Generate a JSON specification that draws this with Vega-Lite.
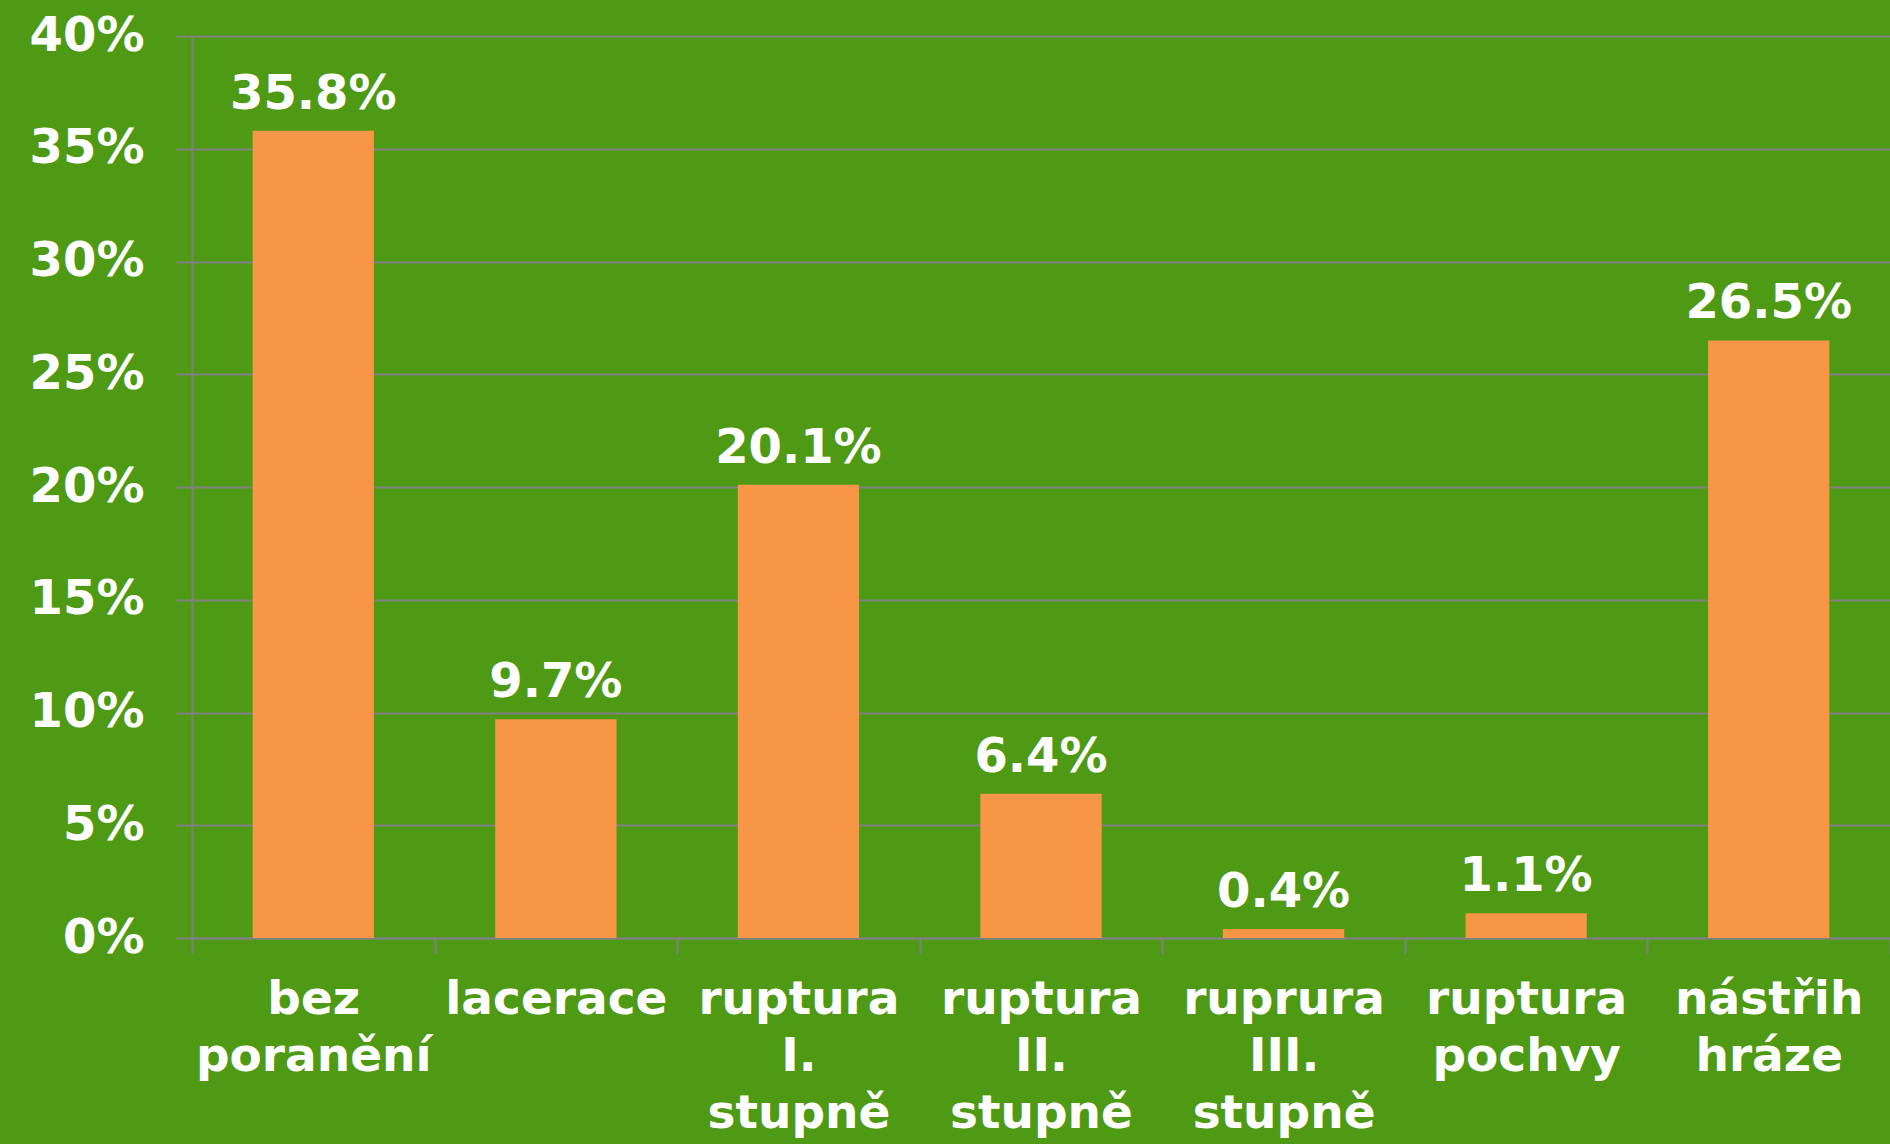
{
  "$schema": "https://vega.github.io/schema/vega-lite/v6.json",
  "width": 1698,
  "height": 902,
  "autosize": {"type": "none"},
  "padding": {"left": 192, "top": 36, "right": 0, "bottom": 206},
  "background": "#4E9A14",
  "config": {
    "view": {"stroke": null},
    "font": "DejaVu Sans"
  },
  "data": {
    "values": [
      {"kategorie": "bez poranění", "podil": 0.358},
      {"kategorie": "lacerace", "podil": 0.097},
      {"kategorie": "ruptura I. stupně", "podil": 0.201},
      {"kategorie": "ruptura II. stupně", "podil": 0.064},
      {"kategorie": "ruprura III. stupně", "podil": 0.004},
      {"kategorie": "ruptura pochvy", "podil": 0.011},
      {"kategorie": "nástřih hráze", "podil": 0.265}
    ]
  },
  "encoding": {
    "x": {
      "field": "kategorie",
      "type": "nominal",
      "sort": null,
      "scale": {"paddingInner": 0, "paddingOuter": 0},
      "axis": {
        "title": null,
        "labelAngle": 0,
        "labelAlign": "center",
        "labelBaseline": "top",
        "labelExpr": "split(datum.label, ' ')",
        "labelLineHeight": 57,
        "labelFont": "DejaVu Sans",
        "labelFontWeight": "bold",
        "labelFontSize": 47,
        "labelColor": "#FFFFFF",
        "labelPadding": 22,
        "labelLimit": 0,
        "labelOverlap": false,
        "tickBand": "extent",
        "tickSize": 16,
        "tickColor": "#808080",
        "tickWidth": 2,
        "domainColor": "#808080",
        "domainWidth": 2
      }
    },
    "y": {
      "field": "podil",
      "type": "quantitative",
      "scale": {"domain": [0, 0.4], "nice": false},
      "axis": {
        "title": null,
        "values": [0, 0.05, 0.1, 0.15, 0.2, 0.25, 0.3, 0.35, 0.4],
        "format": ".0%",
        "labelFont": "DejaVu Sans",
        "labelFontWeight": "bold",
        "labelFontSize": 48,
        "labelColor": "#FFFFFF",
        "labelPadding": 32,
        "grid": true,
        "gridColor": "#808080",
        "gridWidth": 2,
        "tickSize": 16,
        "tickColor": "#808080",
        "tickWidth": 2,
        "domainColor": "#808080",
        "domainWidth": 2
      }
    }
  },
  "layer": [
    {
      "mark": {"type": "bar", "color": "#F79646", "width": {"band": 0.5}}
    },
    {
      "mark": {
        "type": "text",
        "color": "#FFFFFF",
        "font": "DejaVu Sans",
        "fontWeight": "bold",
        "fontSize": 48,
        "baseline": "alphabetic",
        "dy": -22
      },
      "encoding": {
        "text": {"field": "podil", "type": "quantitative", "format": ".1%"}
      }
    }
  ]
}
